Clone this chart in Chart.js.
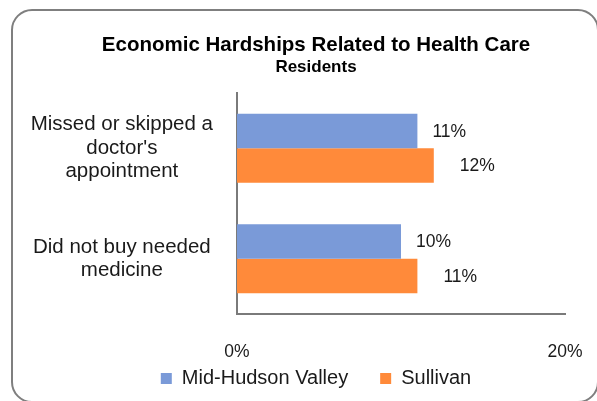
<!DOCTYPE html>
<html><head><meta charset="utf-8">
<style>html,body{margin:0;padding:0;background:#fff;overflow:hidden}canvas{display:block}</style>
<script src="https://cdn.jsdelivr.net/npm/chart.js@4/dist/chart.umd.min.js"></script>
</head><body>
<canvas id="c" width="597" height="401" style="width:597px;height:401px"></canvas>
<script>
const titleText = 'Economic Hardships Related to Health Care';
const subtitleText = 'Residents';
const categories = [['Missed or skipped a', "doctor's", 'appointment'], ['Did not buy needed', 'medicine']];
const seriesNames = ['Mid-Hudson Valley', 'Sullivan'];
const midHudsonValues = [11, 10];
const sullivanValues = [12, 11];
const valueTicks = [0, 20];

const FONT = '"Liberation Sans", Arial, sans-serif';

const frame = {
  id: 'frame',
  beforeDraw(chart) {
    const ctx = chart.ctx;
    ctx.save();
    ctx.strokeStyle = '#7f7f7f';
    ctx.lineWidth = 2;
    ctx.beginPath();
    ctx.roundRect(12, 10, 586, 392, 20);
    ctx.stroke();
    ctx.restore();
  }
};

const valueLabels = {
  id: 'valueLabels',
  afterDatasetsDraw(chart) {
    const ctx = chart.ctx;
    ctx.save();
    ctx.font = '17.5px ' + FONT;
    ctx.fillStyle = '#1a1a1a';
    ctx.textBaseline = 'middle';
    ctx.textAlign = 'left';
    chart.data.datasets.forEach((ds, di) => {
      const meta = chart.getDatasetMeta(di);
      meta.data.forEach((bar, i) => {
        const off = di === 0 ? 15 : 26;
        ctx.fillText(ds.data[i] + '%', bar.x + off, bar.y + 1);
      });
    });
    ctx.restore();
  }
};

new Chart(document.getElementById('c'), {
  type: 'bar',
  data: {
    labels: categories,
    datasets: [
      { label: seriesNames[0], data: midHudsonValues, backgroundColor: '#7a9ad8', borderWidth: 0 },
      { label: seriesNames[1], data: sullivanValues, backgroundColor: '#ff8a3a', borderWidth: 0 }
    ]
  },
  options: {
    indexAxis: 'y',
    responsive: false,
    devicePixelRatio: 1,
    animation: false,
    categoryPercentage: 0.625,
    barPercentage: 1.0,
    layout: { padding: { left: 24, right: -11, top: 0, bottom: 2.5 } },
    scales: {
      x: {
        min: 0, max: 20,
        afterBuildTicks: s => { s.ticks = valueTicks.map(v => ({ value: v })); },
        afterFit: s => { s.height = 22.5; s.paddingRight = 32; s.paddingLeft = 0; },
        grid: { display: false, drawTicks: false },
        border: { display: true, color: '#7a7a7a', width: 2 },
        ticks: { mirror: true, padding: -48.5, color: '#1a1a1a', font: { family: FONT, size: 17.5 }, callback: v => v + '%', maxRotation: 0 }
      },
      y: {
        afterFit: s => { s.width = 213; },
        grid: { display: false, drawTicks: false },
        border: { display: true, color: '#7a7a7a', width: 2 },
        ticks: { padding: 24, crossAlign: 'center', color: '#1a1a1a', font: { family: FONT, size: 20.5, lineHeight: 1.15 } }
      }
    },
    plugins: {
      title: { display: true, text: titleText, color: '#000', font: { family: FONT, size: 20.5, weight: 'bold', lineHeight: 1.2 }, padding: { top: 33, bottom: 0 } },
      subtitle: { display: true, text: subtitleText, color: '#000', font: { family: FONT, size: 17, weight: 'bold', lineHeight: 1.2 }, padding: { top: 0, bottom: 15 } },
      legend: { position: 'bottom', labels: { boxWidth: 11, boxHeight: 11, padding: 32, color: '#1a1a1a', font: { family: FONT, size: 20 } } },
      tooltip: { enabled: false }
    }
  },
  plugins: [frame, valueLabels]
});
</script>
</body></html>
